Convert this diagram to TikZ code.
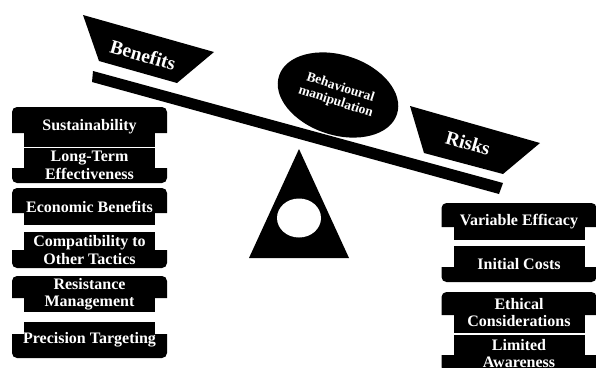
\documentclass[tikz,border=0pt]{standalone}
\usepackage{xcolor}
\usepackage{fontspec}
\setmainfont{Liberation Serif}
\usetikzlibrary{shapes.geometric,positioning,calc}
\definecolor{plate}{RGB}{0,0,0}
\definecolor{lettering}{RGB}{255,255,255}
\tikzset{y=-1pt}
\tikzset{x=1pt}
\tikzstyle{boxtext}=[text=lettering,font=\rmfamily\bfseries\fontsize{16}{17.5}\selectfont,align=center,inner sep=0pt]
\tikzstyle{pantext}=[text=lettering,font=\rmfamily\bfseries\fontsize{19.5}{21}\selectfont,inner sep=0pt,rotate=-16]
\tikzset{wide/.style={fill=plate}}
\tikzset{narrow/.style={fill=plate}}
% #1 name, #2 x centre, #3 top, #4 split, #5 bottom, #6 text
\newcommand{\topwidebox}[6]{
  \fill[wide] (#2-77.5,#4) [rounded corners=5pt] -- (#2-77.5,#3) -- (#2+77.5,#3) [sharp corners] -- (#2+77.5,#4) -- cycle;
  \fill[narrow] (#2-65.5,#4-0.5) rectangle (#2+65.5,#5);
  \draw (#2,{(#3+#5)/2}) node[boxtext] (#1) {#6};
}
\newcommand{\bottomwidebox}[6]{
  \fill[narrow] (#2-65.5,#3) rectangle (#2+65.5,#4+0.5);
  \fill[wide] (#2-77.5,#4) [rounded corners=5pt] -- (#2-77.5,#5) -- (#2+77.5,#5) [sharp corners] -- (#2+77.5,#4) -- cycle;
  \draw (#2,{(#3+#5)/2}) node[boxtext] (#1) {#6};
}

\begin{document}
\begin{tikzpicture}
  \useasboundingbox (0,0) rectangle (596,367);
  %% Scale
  \fill[plate] (93,71) -- (503,183) -- (499,194) -- (92,82) -- cycle;
  \fill[plate] (83,15) -- (214,52) -- (177,83) -- (99,61) -- cycle;
  \fill[plate] (410,106) -- (540,143) -- (503,174) -- (424,153) -- cycle;
  \draw (143,55) node[pantext] (benefits) {Benefits};
  \draw (468,143) node[pantext] (risks) {Risks};
  \draw (338,95) node[ellipse,fill=plate,minimum width=124pt,minimum height=80pt,rotate=-18,inner sep=0pt,
    text=lettering,align=center,font=\rmfamily\bfseries\fontsize{13.5}{15}\selectfont] (manipulation) {Behavioural\\manipulation};

  %% Fulcrum
  \fill[plate] (299,149) -- (349,258) -- (249,258) -- cycle;
  \fill[lettering] (299,218) ellipse (22pt and 19.5pt);

  %% Benefits side
  \topwidebox{S1}{89.5}{107}{133}{147}{Sustainability}
  \bottomwidebox{S2}{89.5}{148}{168}{183}{Long-Term\\Effectiveness}
  \topwidebox{S3}{89.5}{188}{213}{225}{Economic Benefits}
  \bottomwidebox{S4}{89.5}{232}{250}{268}{Compatibility to\\Other Tactics}
  \topwidebox{S5}{89.5}{276}{298}{312}{Resistance\\Management}
  \bottomwidebox{S6}{89.5}{322}{334}{358}{Precision Targeting}

  %% Risks side
  \topwidebox{R1}{519}{203}{227}{240}{Variable Efficacy}
  \bottomwidebox{R2}{519}{246}{267}{282}{Initial Costs}
  \topwidebox{R3}{519}{292}{315}{333}{Ethical\\Considerations}
  \bottomwidebox{R4}{519}{335}{355}{372}{Limited\\Awareness}
\end{tikzpicture}
\end{document}
